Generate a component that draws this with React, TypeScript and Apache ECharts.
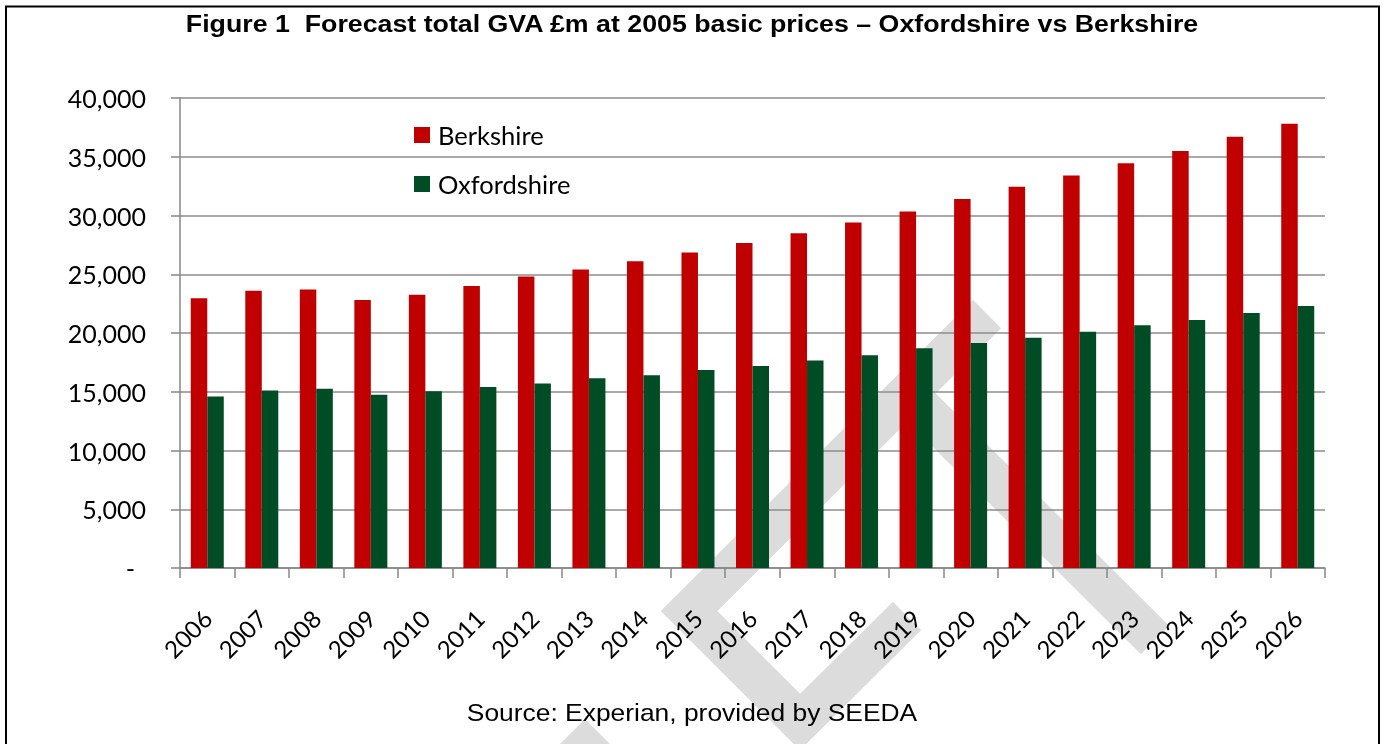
import React, { useEffect, useRef } from 'react';
import * as echarts from 'echarts';

const years = ['2006', '2007', '2008', '2009', '2010', '2011', '2012', '2013', '2014', '2015', '2016', '2017', '2018', '2019', '2020', '2021', '2022', '2023', '2024', '2025', '2026'];
const berkshire = [22950, 23600, 23700, 22800, 23250, 24000, 24800, 25400, 26100, 26850, 27650, 28500, 29400, 30350, 31400, 32450, 33400, 34450, 35500, 36700, 37800];
const oxfordshire = [14600, 15100, 15250, 14750, 15050, 15400, 15700, 16150, 16400, 16850, 17200, 17650, 18100, 18700, 19150, 19600, 20100, 20650, 21100, 21700, 22300];
const seriesNames = ['Berkshire', 'Oxfordshire'];
const TITLE = 'Figure 1  Forecast total GVA £m at 2005 basic prices – Oxfordshire vs Berkshire';
const SOURCE = 'Source: Experian, provided by SEEDA';

export default function App() {
  const ref = useRef<HTMLDivElement>(null);
  useEffect(() => {
    document.body.style.margin = '0';
    const chart = echarts.init(ref.current as HTMLDivElement, null, { renderer: 'svg' });
    const wm = '#dcdcdc';
    const wmStyle = { stroke: wm, lineWidth: 40, fill: null, lineJoin: 'miter', lineCap: 'butt' };
    const axisGrey = '#878787';
    const labelFont = { fontFamily: 'Lato', fontSize: 25, color: '#000' };
    const legendBase = {
      left: 414, padding: 0, itemWidth: 16, itemHeight: 16, icon: 'rect',
      textStyle: { ...labelFont, fontSize: 25.5, padding: [0, 0, 0, 3] },
    };
    chart.setOption({
      animation: false,
      grid: { left: 180, right: 60, top: 98, bottom: 176 },
      legend: [
        { ...legendBase, data: [seriesNames[0]], top: 122 },
        { ...legendBase, data: [seriesNames[1]], top: 171 },
      ],
      xAxis: {
        type: 'category',
        data: years,
        axisLine: { lineStyle: { color: axisGrey, width: 1.5 } },
        axisTick: { show: true, length: 10, lineStyle: { color: axisGrey, width: 1.5 } },
        axisLabel: { ...labelFont, fontSize: 24, rotate: 45, margin: 46, interval: 0 },
      },
      yAxis: {
        type: 'value',
        min: 0,
        max: 40000,
        interval: 5000,
        axisLine: { show: true, lineStyle: { color: axisGrey, width: 1.5 } },
        axisTick: { show: true, length: 9, lineStyle: { color: axisGrey, width: 1.5 } },
        splitLine: { lineStyle: { color: '#8c8c8c', width: 1.5 } },
        axisLabel: {
          ...labelFont,
          margin: 34,
          formatter: (v: number) => (v === 0 ? '{dash|-}' : v.toLocaleString('en-GB')),
          rich: { dash: { ...labelFont, padding: [0, 11, 0, 0] } },
        },
      },
      series: [
        { name: seriesNames[0], type: 'bar', data: berkshire, barWidth: 16.5, barGap: '0%', itemStyle: { color: '#C00000' } },
        { name: seriesNames[1], type: 'bar', data: oxfordshire, barWidth: 16.5, barGap: '0%', itemStyle: { color: '#004D25' } },
      ],
      graphic: [
        { type: 'polyline', z: -10, shape: { points: [[987, 314], [689, 611], [800, 722], [907, 616]] }, style: wmStyle },
        { type: 'polyline', z: -10, shape: { points: [[907, 393], [1155, 640]] }, style: wmStyle },
        { type: 'polygon', z: -10, shape: { points: [[560, 744], [585, 719], [610, 744]] }, style: { fill: wm } },
        {
          type: 'text', x: 692, y: 24, scaleX: 1.115, z: 5,
          style: { text: TITLE, fontFamily: 'Liberation Sans', fontWeight: 'bold', fontSize: 24, fill: '#000', textAlign: 'center', align: 'center', textVerticalAlign: 'middle', verticalAlign: 'middle' },
        },
        {
          type: 'text', x: 692, y: 712, scaleX: 1.1, z: 5,
          style: { text: SOURCE, fontFamily: 'Liberation Sans', fontSize: 24, fill: '#000', textAlign: 'center', align: 'center', textVerticalAlign: 'middle', verticalAlign: 'middle' },
        },
        { type: 'rect', z: 20, shape: { x: 6, y: 6.5, width: 1373, height: 800 }, style: { fill: 'transparent', stroke: '#000', lineWidth: 2 } },
      ],
    });
    return () => chart.dispose();
  }, []);
  return <div ref={ref} style={{ position: 'fixed', left: 0, top: 0, width: 1385, height: 744 }} />;
}
